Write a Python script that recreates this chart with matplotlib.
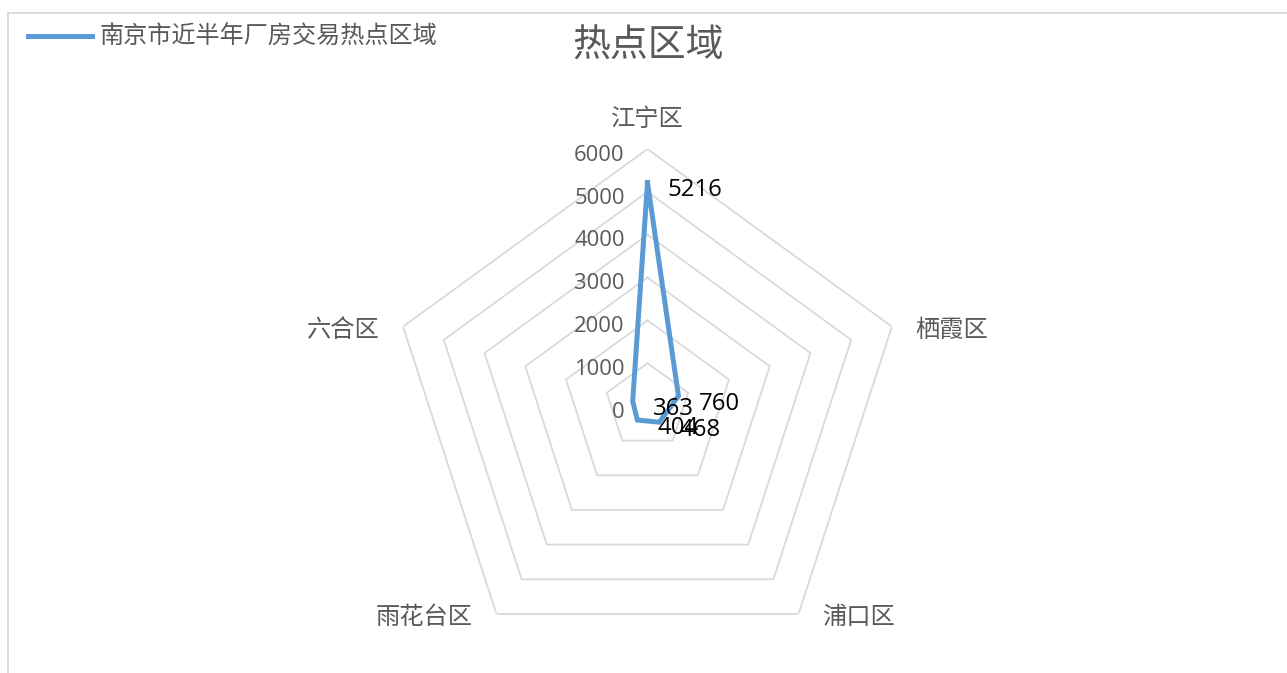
import numpy as np
import matplotlib
matplotlib.use("Agg")
from matplotlib import pyplot as plt
from matplotlib.lines import Line2D

plt.rcParams['font.family'] = ['Noto Sans CJK SC', 'DejaVu Sans']

districts = ['江宁区', '栖霞区', '浦口区', '雨花台区', '六合区']
deals = [5216, 760, 468, 404, 363]
levels = [1000, 2000, 3000, 4000, 5000, 6000]
series_name = '南京市近半年厂房交易热点区域'

line_color = '#5B9BD5'
grid_color = '#D9D9D9'
text_gray = '#595959'

fig = plt.figure(figsize=(12.87, 6.73), dpi=100)
ax = fig.add_axes([390.5 / 1287, 10 / 673, 514 / 1287, 514 / 673], projection='polar')
ax.set_theta_offset(np.pi / 2)
ax.set_theta_direction(-1)
ax.set_ylim(0, 6000)
ax.grid(False)
ax.spines['polar'].set_visible(False)
ax.set_xticks([])
ax.set_yticks([])
ax.patch.set_alpha(0)

theta = np.linspace(0, 2 * np.pi, len(districts), endpoint=False)
theta_c = np.append(theta, theta[0])

# pentagon grid
for lv in levels:
    ax.plot(theta_c, [lv] * len(theta_c), color=grid_color, lw=1.3, zorder=1)

# series
vals = deals + deals[:1]
line, = ax.plot(theta_c, vals, color=line_color, lw=3.6, solid_joinstyle='miter',
                label=series_name, zorder=3)

# data labels
for t, v in zip(theta, deals):
    ax.annotate(str(v), xy=(t, v), xytext=(14.5, -5.5), textcoords='offset points',
                ha='left', va='center', fontsize=17.3, color='black',
                family=['Open Sans', 'DejaVu Sans'], zorder=4)

# radial tick labels
for lv in [0] + levels:
    ax.annotate(str(lv), xy=(0, lv), xytext=(-16.5, -4.5), textcoords='offset points',
                ha='right', va='center', fontsize=15.8, color=text_gray,
                family=['Open Sans', 'DejaVu Sans'])

# category labels
cat_offsets = [(0, 12.5, 'center', 'bottom'), (16.5, -2.5, 'left', 'center'),
               (17, -2, 'left', 'center'), (-17, -2, 'right', 'center'),
               (-16.5, -2.5, 'right', 'center')]
for t, name, (dx, dy, ha, va) in zip(theta, districts, cat_offsets):
    ax.annotate(name, xy=(t, 6000), xytext=(dx, dy), textcoords='offset points',
                ha=ha, va=va, fontsize=17.5, color=text_gray)

fig.text(648 / 1287, 1 - 46 / 673, '热点区域', ha='center', va='center',
         fontsize=27.3, color=text_gray)

fig.legend(handles=[line], loc='center left', bbox_to_anchor=(28 / 1287, 1 - 37 / 673),
           frameon=False, fontsize=17.4, labelcolor=text_gray, handlelength=2.65,
           handletextpad=0.33, borderpad=0, borderaxespad=0)

# chart area border
fig.add_artist(Line2D([8 / 1287, 1], [1 - 13 / 673, 1 - 13 / 673],
                      transform=fig.transFigure, color=grid_color, lw=1.3))
fig.add_artist(Line2D([8 / 1287, 8 / 1287], [0, 1 - 13 / 673],
                      transform=fig.transFigure, color=grid_color, lw=1.3))

fig.savefig('out.png', dpi=100)
